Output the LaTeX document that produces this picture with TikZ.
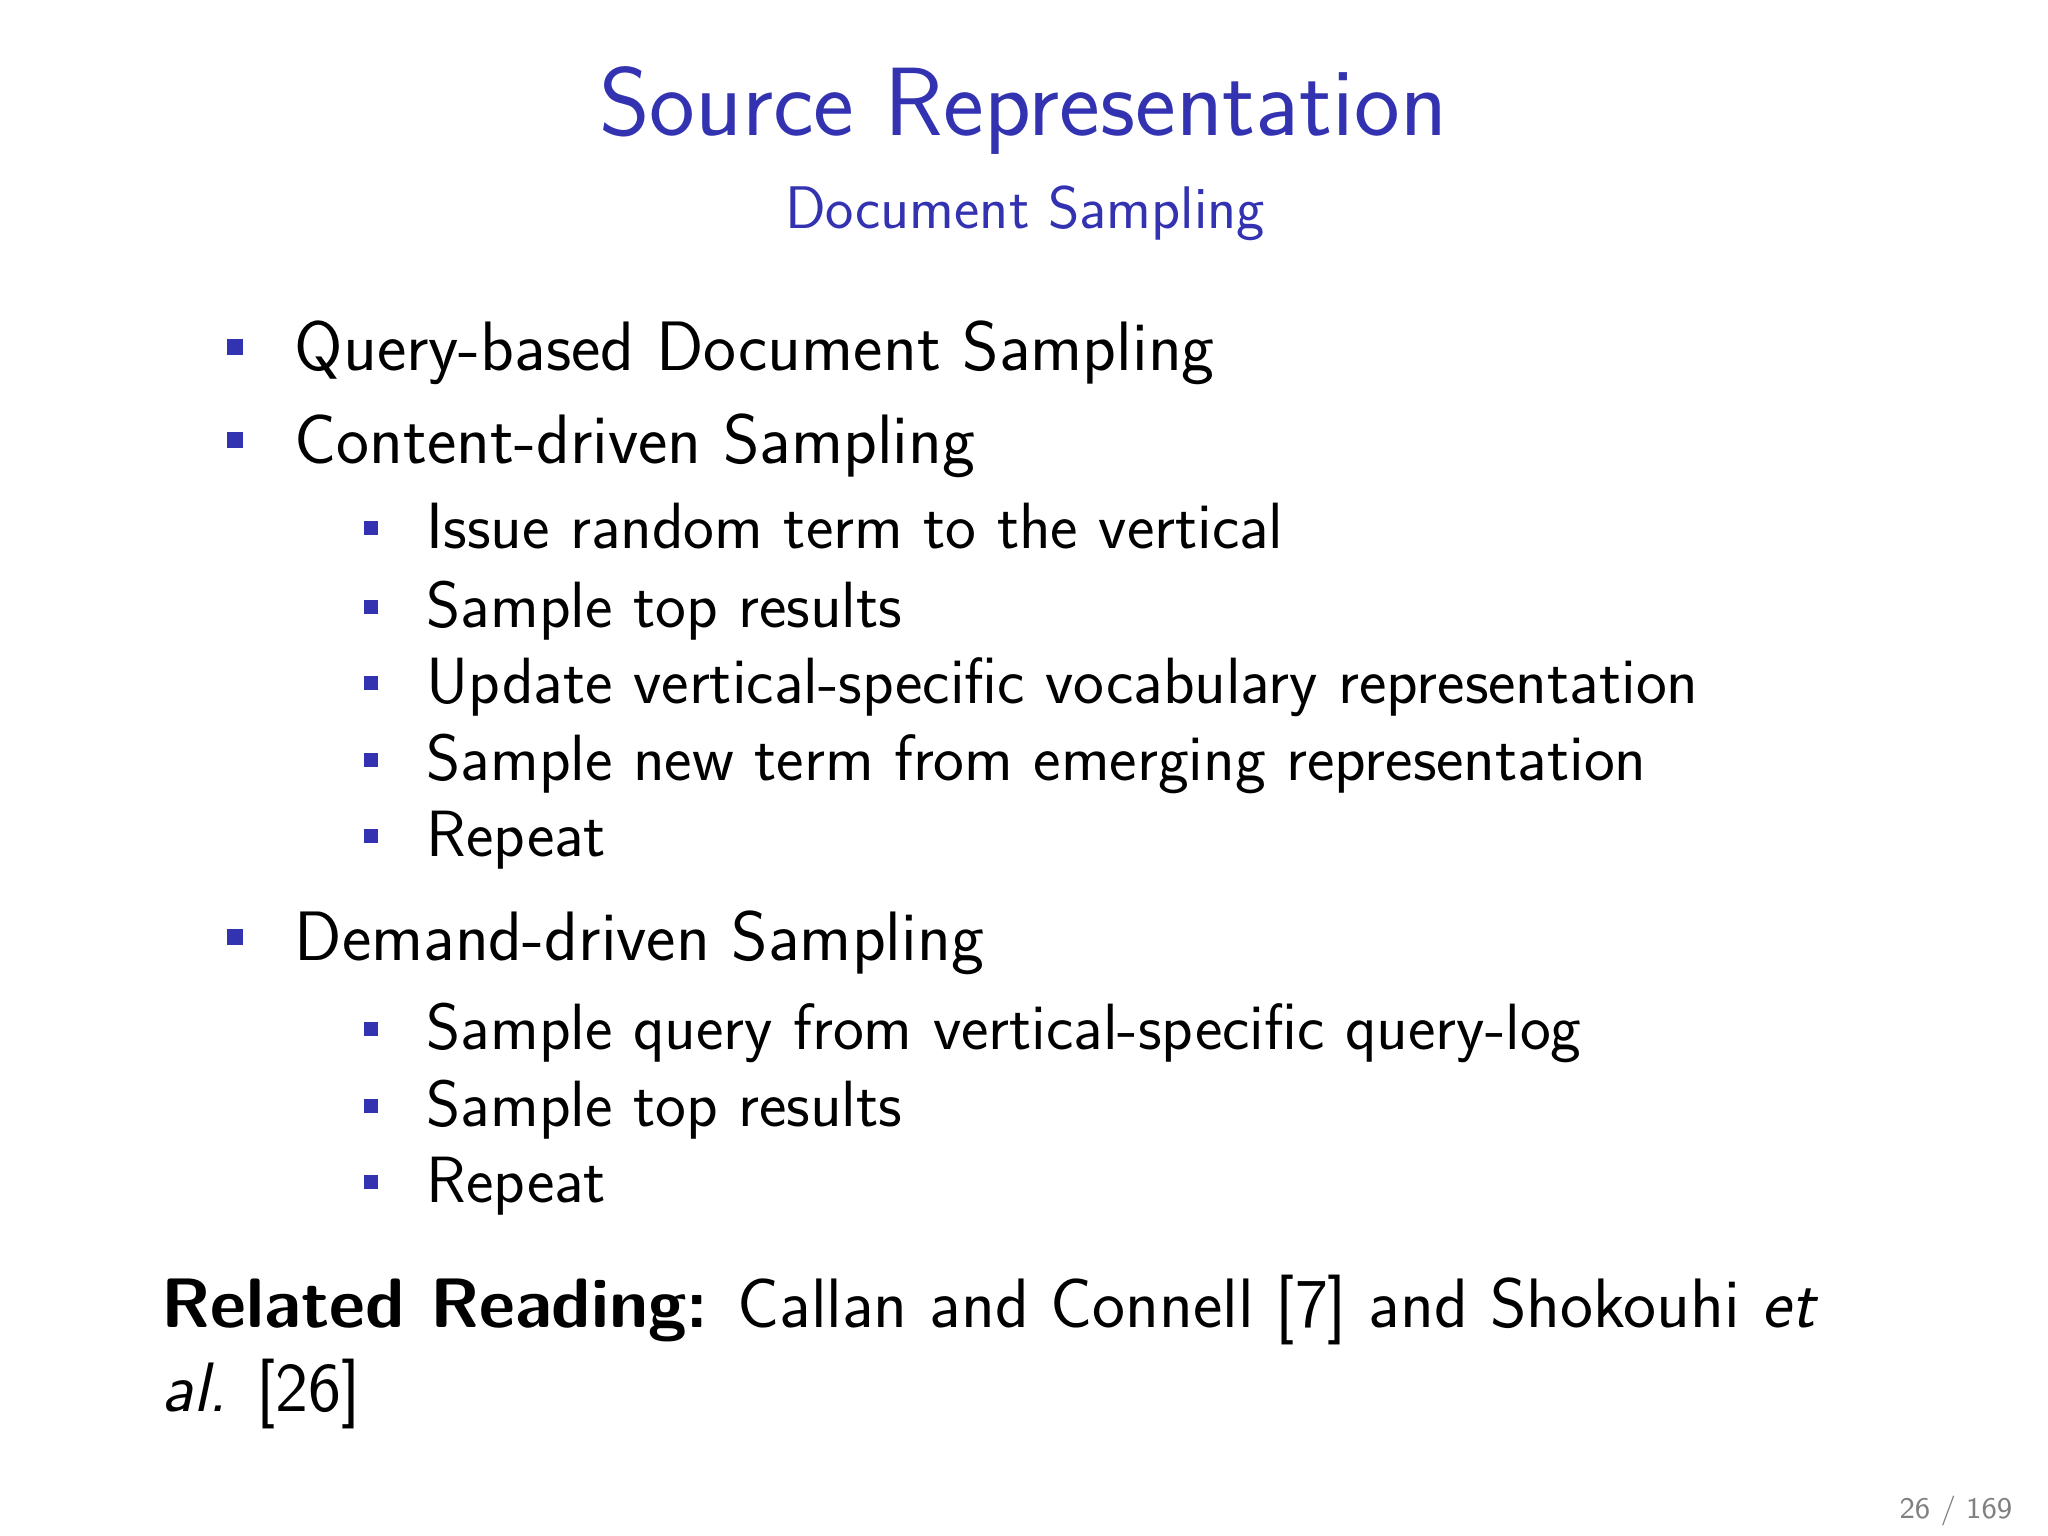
\documentclass[tikz,border=0pt]{standalone}
\definecolor{bblue}{rgb}{0.2,0.2,0.7}
\tikzset{
  txt/.style={anchor=base west,inner sep=0pt,font=\sffamily\fontsize{19.9}{24}\selectfont},
  sub/.style={anchor=base west,inner sep=0pt,font=\sffamily\fontsize{18.6}{22}\selectfont},
  bul/.style={fill=bblue,minimum size=4.6pt,inner sep=0pt,anchor=center},
}
\begin{document}
\begin{tikzpicture}[x=0.01cm,y=-0.01cm]
\useasboundingbox[fill=white] (0,0) rectangle (2048,1536);
\node[anchor=base,inner sep=0pt,text=bblue,font=\sffamily\fontsize{27.6}{33}\selectfont] (title) at (1023,135) {Source Representation};
\node[anchor=base,inner sep=0pt,text=bblue,font=\sffamily\fontsize{17.1}{20}\selectfont] (subtitle) at (1025,228) {Document Sampling};
% level 1
\foreach \n/\y/\t in {a/370/Query-based Document Sampling, b/463/Content-driven Sampling, c/960/Demand-driven Sampling}{
  \node[bul] (bul\n) at (235,\y-23) {};
  \node[txt] (it\n) at (294,\y) {\t};
}
% level 2
\foreach \n/\y/\t in {1/548/Issue random term to the vertical, 2/627/Sample top results, 3/703/Update vertical-specific vocabulary representation, 4/780/Sample new term from emerging representation, 5/856/Repeat, 6/1049/Sample query from vertical-specific query-log, 7/1126/Sample top results, 8/1202/Repeat}{
  \node[bul,minimum size=4pt] (sb\n) at (371,\y-20) {};
  \node[sub] (si\n) at (426,\y) {\t};
}
\node[txt] (rel1) at (161,1327) {\textbf{Related Reading:} Callan and Connell [7] and Shokouhi \textit{et}};
\node[txt] (rel2) at (161,1411) {\textit{al.} [26]};
\node[anchor=base east,inner sep=0pt,text=gray,font=\sffamily\fontsize{8.5}{10}\selectfont] (pg) at (2013,1518) {26 / 169};
\end{tikzpicture}
\end{document}
